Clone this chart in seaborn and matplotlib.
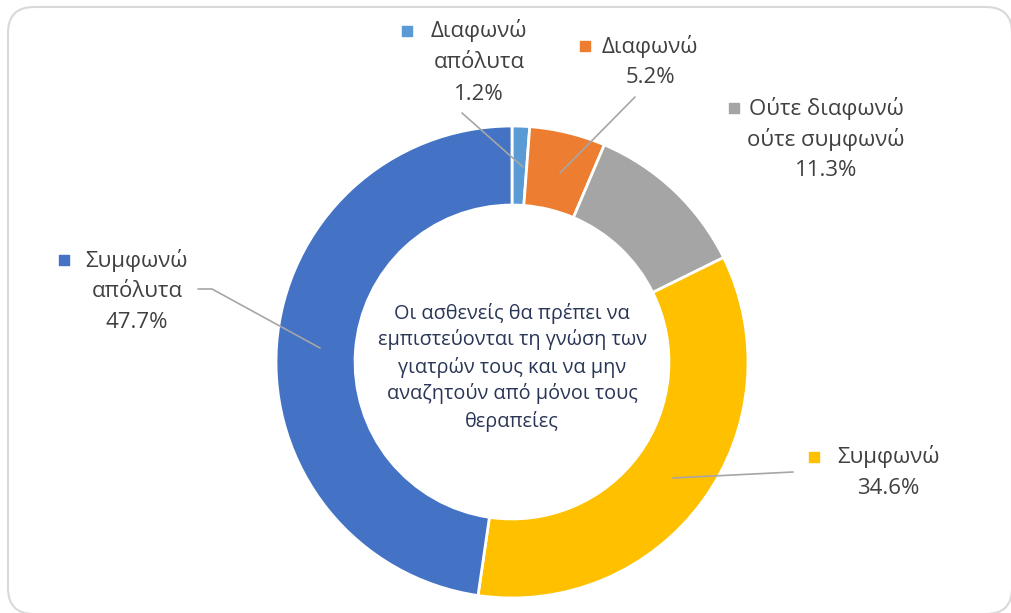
import matplotlib
matplotlib.use("Agg")
import matplotlib.pyplot as plt
from matplotlib.patches import FancyBboxPatch
import seaborn as sns

# data
categories = ["Διαφωνώ\nαπόλυτα", "Διαφωνώ", "Ούτε διαφωνώ\nούτε συμφωνώ", "Συμφωνώ", "Συμφωνώ\nαπόλυτα"]
values = [1.2, 5.2, 11.3, 34.6, 47.7]
center_text = ("Οι ασθενείς θα πρέπει να\nεμπιστεύονται τη γνώση των\n"
               "γιατρών τους και να μην\nαναζητούν από μόνοι τους\nθεραπείες")

sns.set_theme(style="white")
plt.rcParams["font.family"] = ["Open Sans", "DejaVu Sans"]

colors = sns.color_palette(["#5B9BD5", "#ED7D31", "#A5A5A5", "#FFC000", "#4472C4"])

W, H = 1011, 613
fig = plt.figure(figsize=(W / 100, H / 100), dpi=100)
ax = fig.add_axes([0, 0, 1, 1])

cx, cy, r = 512, 362, 236
# y axis is inverted, so counterclock=True draws clockwise on screen; start at top
wedges, _ = ax.pie(values, colors=colors, startangle=-90, counterclock=True,
                   center=(cx, cy), radius=r, frame=True,
                   wedgeprops=dict(width=r * 0.335, edgecolor="white", linewidth=2))
ax.set_xlim(0, W)
ax.set_ylim(H, 0)
ax.set_aspect("equal")
ax.axis("off")

# rounded frame, partly cut by the image edge
frame = FancyBboxPatch((8, 7), 1004, 607, boxstyle="round,pad=0,rounding_size=26",
                       fc="none", ec="#D9D9D9", lw=1.5, zorder=0, clip_on=False)
ax.add_patch(frame)

# label layout: (text center x, first line y, marker x)
label_pos = [(479, 31, 407), (650, 46, 585), (826, 108, 734), (888, 457, 814), (137, 260, 64)]
leaders = [
    [(462, 113), (523, 167)],
    [(635, 97), (560, 173)],
    None,
    [(793, 472), (673, 478)],
    [(198, 289), (212, 289), (320, 348)],
]

tc = "#404040"
for cat, v, col, (tx, ty, mx), ld in zip(categories, values, colors, label_pos, leaders):
    lines = cat.split("\n") + [f"{v:.1f}%"]
    for i, line in enumerate(lines):
        ax.text(tx, ty + i * 31.5, line, ha="center", va="center", fontsize=16, color=tc)
    ax.scatter([mx], [ty], marker="s", s=50, color=col, zorder=3)
    if ld:
        xs, ys = zip(*ld)
        ax.plot(xs, ys, color="#A6A6A6", lw=1.2, zorder=4)

for i, line in enumerate(center_text.split("\n")):
    ax.text(cx, 313 + i * 27, line, ha="center", va="center", fontsize=14.3, color="#2A3656")

fig.savefig("out.png", dpi=100)
